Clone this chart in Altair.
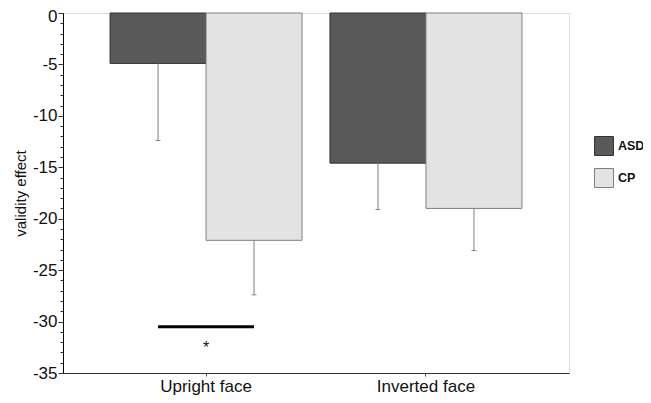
import altair as alt
import pandas as pd

conditions = ["Upright face", "Upright face", "Inverted face", "Inverted face"]
groups = ["ASD", "CP", "ASD", "CP"]
means = [-4.9, -22.1, -14.6, -19.0]
err_ends = [-12.4, -27.4, -19.1, -23.1]

sig_condition = ["Upright face", "Upright face"]
sig_groups = ["ASD", "CP"]
sig_y = [-30.5, -30.5]
star_y = [-32.6]

cat_order = ["Upright face", "Inverted face"]
grp_order = ["ASD", "CP"]

df = pd.DataFrame({"condition": conditions, "group": groups, "mean": means, "err": err_ends})
sig = pd.DataFrame({"condition": sig_condition, "group": sig_groups, "y": sig_y})
star = pd.DataFrame({"condition": ["Upright face"], "y": star_y, "t": ["*"]})

xscale = alt.Scale(domain=cat_order, paddingInner=0.127, paddingOuter=0.214)
xoff = alt.XOffset("group:N", scale=alt.Scale(domain=grp_order, paddingInner=0, paddingOuter=0))
yscale = alt.Scale(domain=[-35, 0], nice=False, zero=False)

x_axis = alt.Axis(title=None, labelAngle=0, labelFontSize=17, labelColor="#111",
                  labelPadding=2, tickSize=3, tickColor="#555",
                  domainColor="#333", labelFont="Liberation Sans")
y_axis = alt.Axis(title="validity effect", values=list(range(-35, 1)),
                  labelExpr="datum.value % 5 === 0 ? replace(datum.label, '\u2212', '-') : ''",
                  labelOverlap=False,
                  labelOffset={"condition": {"test": "datum.value === 0", "value": 3}, "value": 0},
                  tickSize={"condition": {"test": "datum.value % 5 === 0", "value": 5}, "value": 3},
                  labelFontSize=17, labelColor="#111", titleFontSize=15, titleFontWeight="normal",
                  titleColor="#111", titlePadding=4, grid=False, domainColor="#000",
                  tickColor="#333", labelPadding=1, labelFont="Liberation Sans",
                  titleFont="Liberation Sans")


def xe():
    return alt.X("condition:N", scale=xscale, sort=cat_order, axis=x_axis)


def ye(field):
    return alt.Y(field, scale=yscale, axis=y_axis)


base = alt.Chart(df)

bars = base.mark_bar(strokeWidth=1).encode(
    x=xe(),
    xOffset=xoff,
    y=ye("mean:Q"),
    fill=alt.Fill("group:N", scale=alt.Scale(domain=grp_order, range=["#595959", "#e3e3e3"]),
                  legend=alt.Legend(title=None, orient="none", legendX=531, legendY=123,
                                    symbolType="square", symbolSize=361,
                                    symbolStrokeColor="#222", symbolStrokeWidth=1,
                                    labelFontSize=12.5, labelFontWeight="bold", labelColor="#111",
                                    labelOffset=4, rowPadding=8, labelFont="Liberation Sans")),
    stroke=alt.Stroke("group:N", scale=alt.Scale(domain=grp_order, range=["#333333", "#808080"]),
                      legend=None),
)

errs = base.mark_rule(color="#808080", strokeWidth=1).encode(
    x=xe(),
    xOffset=xoff,
    y=ye("mean:Q"),
    y2="err:Q",
)
caps = base.mark_tick(color="#555555", thickness=1, size=5).encode(
    x=xe(),
    xOffset=xoff,
    y=ye("err:Q"),
)

sig_line = alt.Chart(sig).mark_line(color="#000", strokeWidth=3).encode(
    x=xe(),
    xOffset=alt.XOffset("group:N", scale=alt.Scale(domain=grp_order, paddingInner=0, paddingOuter=0)),
    y=ye("y:Q"),
)

star_text = alt.Chart(star).mark_text(fontSize=16, font="Liberation Sans", color="#111", baseline="middle").encode(
    x=xe(),
    y=ye("y:Q"),
    text="t:N",
)

chart = alt.layer(bars, errs, caps, sig_line, star_text).properties(
    width=506, height=360,
    autosize=alt.AutoSizeParams(type="none"),
    padding={"left": 55, "top": 5, "right": 74, "bottom": 22},
).configure_view(stroke="#999999", strokeWidth=1).configure_axis(labelOverlap=False).configure(background="white")

chart.save("out.html", embed_options={"renderer": "svg", "actions": False})
